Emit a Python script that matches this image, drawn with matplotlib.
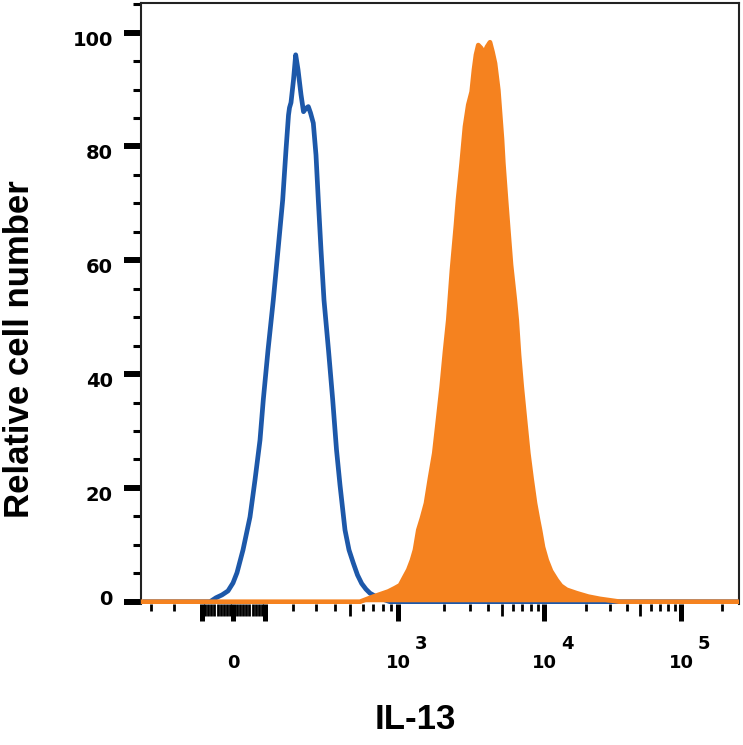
import numpy as np
import matplotlib
matplotlib.use("Agg")
import matplotlib.pyplot as plt
import matplotlib.transforms as mtransforms
from matplotlib.ticker import FixedLocator, FixedFormatter

# logicle (biexponential) display parameters
LOG_A = 50.7
LOG_P = 2.63

def logicle_inv(d):
    d = np.asarray(d, dtype=float)
    s = np.sign(d)
    d = np.abs(d)
    return s * LOG_A * (10**d - LOG_P**2 * 10**(-d / LOG_P) + LOG_P**2 - 1)

_grid = np.linspace(-7, 7, 20001)
_grid_vals = logicle_inv(_grid)

def logicle_fwd(x):
    return np.interp(np.asarray(x, dtype=float), _grid_vals, _grid)

# isotype control (blue outline)
blue_x = [-328.5, -176.9, -74.01, -54.85, -35.92, -17.15, -1.558, 10.91, 29.65, 51.68,
          67.59, 83.71, 94.49, 110.1, 128, 144.4, 161.1, 173.2, 182.5, 186.3, 192, 201.7,
          210.3, 219.6, 231.9, 242.4, 253.1, 263.2, 273.1, 286, 298.7, 309.9, 323.4,
          338.8, 363, 386.7, 409.3, 431, 463.8, 491.6, 523.2, 555.9, 590.6, 628.4, 665.7,
          715.4, 791.7, 889.3, 2194, 11020, 58820, 260000]
blue_y = [0.0, 0.0, 0.0, 0.7, 1.2, 1.9, 3.3, 5.1, 9.1, 14.9, 21.4, 28.4, 35.5, 44.2, 53.0,
          61.8, 70.6, 79.4, 85.5, 86.8, 87.7, 91.7, 96.1, 93.5, 89.1, 86.1, 86.7, 87.0,
          85.9, 84.1, 78.5, 70.6, 61.8, 53.0, 44.2, 35.5, 26.7, 20.5, 12.6, 9.1, 6.8, 4.7,
          3.2, 2.2, 1.5, 1.0, 0.5, 0.0, 0.0, 0.0, 0.0, 0.0]

# IL-13 stained (orange filled)
orange_x = [-344.1, 51.68, 576.3, 698.1, 769.1, 867.5, 956.7, 1030, 1092, 1164, 1230, 1286,
            1352, 1429, 1518, 1613, 1722, 1823, 1930, 2030, 2137, 2263, 2409, 2486, 2634,
            2775, 2923, 3085, 3200, 3303, 3426, 3577, 3771, 3938, 4132, 4302, 4479, 4724,
            4856, 5016, 5123, 5352, 5556, 5806, 6180, 6372, 6616, 6915, 7300, 7706, 8122,
            8604, 9040, 9344, 9818, 10440, 11210, 12320, 13230, 14550, 17190, 20860, 25380,
            35500, 136800, 264500]
orange_y = [0.0, 0.0, 0.0, 0.9, 1.3, 1.8, 2.4, 2.9, 4.2, 5.6, 7.3, 9.1, 12.6, 14.7, 17.3,
            21.7, 26.1, 31.9, 37.8, 43.9, 49.5, 58.3, 66.2, 70.6, 77.1, 83.5, 87.3, 89.6,
            93.5, 96.1, 97.8, 97.3, 96.4, 97.5, 98.3, 96.6, 94.6, 89.9, 85.9, 81.2, 77.1,
            70.6, 65.3, 59.2, 53.0, 49.5, 43.4, 37.8, 31.9, 26.1, 21.7, 17.3, 14.4, 12.6,
            9.6, 7.3, 5.4, 3.8, 2.8, 2.1, 1.5, 0.9, 0.5, 0.0, 0.0, 0.0]

x_major = [-100, 0, 100, 1e3, 1e4, 1e5]
x_major_labels = ["", "0", "", "10", "10", "10"]
x_exponents = [(1e3, "3"), (1e4, "4"), (1e5, "5")]
x_near_zero = [s * v for s in (-1, 1) for v in range(10, 100, 10)]
x_minor = [-300, -200] + [m * 10**e for e in (2, 3, 4) for m in range(2, 10)] + [2e5]

BLUE = "#1d58a9"
ORANGE = "#f5821f"
plt.rcParams["font.family"] = ["DejaVu Sans"]

fig = plt.figure(figsize=(7.43, 7.45), dpi=100)
ax = fig.add_axes([141/743, 141/745, 598/743, 601/745])
ax.set_xscale("function", functions=(logicle_fwd, logicle_inv))

ax.plot(blue_x, blue_y, color=BLUE, lw=3.4, zorder=2)
ax.fill_between(orange_x, 0, orange_y, color=ORANGE, lw=0, zorder=3)
ax.plot(orange_x, orange_y, color=ORANGE, lw=3.4, zorder=3)

ax.set_xlim(-349.4, 264478)
ax.set_ylim(-0.395, 105.2)

for side in ("left", "top", "right"):
    ax.spines[side].set_linewidth(1.5)
    ax.spines[side].set_color("#222222")
ax.spines["bottom"].set_visible(False)

# y axis
ax.set_yticks(range(0, 101, 20))
ax.set_yticks(range(5, 106, 5), minor=True)
ax.tick_params(axis="y", which="major", length=12.2, width=4.3, pad=8,
               labelsize=14, color="black")
ax.tick_params(axis="y", which="minor", length=5.5, width=2.2, color="black")
for i, lab in enumerate(ax.get_yticklabels()):
    lab.set_fontweight("bold")
    dy = 3 if i == 0 else -4
    lab.set_transform(lab.get_transform() +
                      mtransforms.ScaledTranslation(0, dy/72, fig.dpi_scale_trans))

# x axis (logicle ticks)
minor_vals = x_minor + x_near_zero
ax.xaxis.set_major_locator(FixedLocator(x_major))
ax.xaxis.set_major_formatter(FixedFormatter(x_major_labels))
ax.xaxis.set_minor_locator(FixedLocator(minor_vals))
ax.tick_params(axis="x", which="major", length=12, width=3.6, pad=24,
               labelsize=13, color="black")
ax.tick_params(axis="x", which="minor", length=5.3, width=2.0, color="black")
for lab in ax.get_xticklabels():
    lab.set_fontweight("bold")
for tk, val in zip(ax.xaxis.get_minor_ticks(len(minor_vals)), minor_vals):
    if val in x_near_zero or val in (500, 5e3, 5e4):
        tk.tick1line.set_markersize(8.4)

for val, ex in x_exponents:
    ax.annotate(ex, xy=(val, 0), xycoords=("data", "axes fraction"),
                xytext=(16.5, -29), textcoords="offset points",
                ha="center", va="center", fontsize=13, fontweight="bold")

fig.text(19.5/743, 1 - 349/745, "Relative cell number", rotation=90,
         ha="center", va="center", fontsize=25, fontweight="bold",
         family="Liberation Sans")
fig.text(415/743, 1 - 719.5/745, "IL-13", ha="center", va="center",
         fontsize=25, fontweight="bold", family="Liberation Sans")

fig.savefig("out.png", dpi=100)
